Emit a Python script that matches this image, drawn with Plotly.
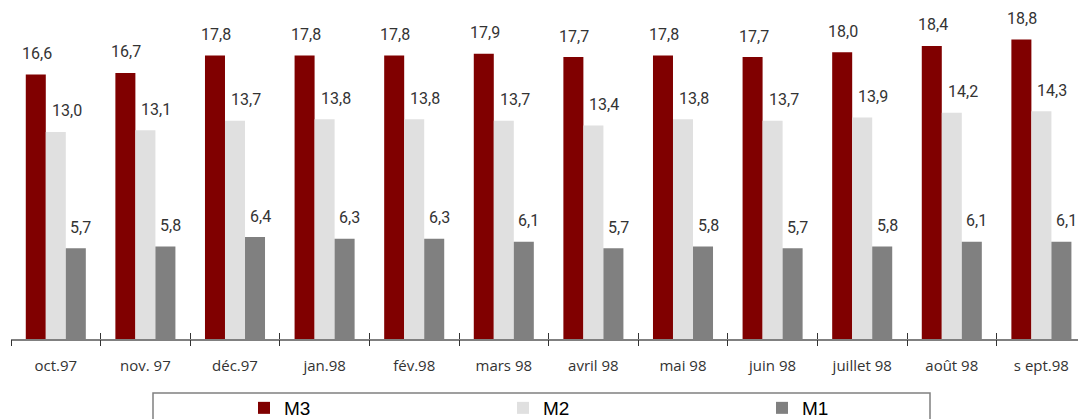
import plotly.graph_objects as go

months = ["oct.97", "nov. 97", "déc.97", "jan.98", "fév.98", "mars 98",
          "avril 98", "mai 98", "juin 98", "juillet 98", "août 98", "s ept.98"]
m3 = [16.6, 16.7, 17.8, 17.8, 17.8, 17.9, 17.7, 17.8, 17.7, 18.0, 18.4, 18.8]
m2 = [13.0, 13.1, 13.7, 13.8, 13.8, 13.7, 13.4, 13.8, 13.7, 13.9, 14.2, 14.3]
m1 = [5.7, 5.8, 6.4, 6.3, 6.3, 6.1, 5.7, 5.8, 5.7, 5.8, 6.1, 6.1]

series = [("M3", m3, "#800000", -19),
          ("M2", m2, "#E0E0E0", 11),
          ("M1", m1, "#808080", 25)]

W, H = 1078, 419
L, R, T, B = 11, 0, 0, 80
pw, ph = W - L - R, H - T - B
cat_w = 89.6
x_max = -0.5 + pw / cat_w
y_max = ph / 15.93

fig = go.Figure()
annotations = []
for name, vals, color, dx in series:
    fig.add_trace(go.Bar(x=list(range(len(months))), y=vals, name=name,
                         marker=dict(color=color, line=dict(width=0))))
    for i, v in enumerate(vals):
        annotations.append(dict(
            x=i, y=v, xref="x", yref="y", text=f"{v:.1f}".replace(".", ","),
            showarrow=False, xshift=dx, yshift=21, yanchor="middle",
            font=dict(family="Roboto, Arial, sans-serif", size=16, color="#333333")))

# legend frame
def px_x(p):
    return (p - L) / pw

def px_y(p):
    return (T + ph - p) / ph

fig.add_shape(type="rect", xref="paper", yref="paper",
              x0=px_x(153), x1=px_x(930), y0=px_y(393), y1=px_y(440),
              line=dict(color="#808080", width=1.5), fillcolor="rgba(0,0,0,0)")

fig.update_layout(
    width=W, height=H,
    margin=dict(l=L, r=R, t=T, b=B, pad=0, autoexpand=False),
    paper_bgcolor="white", plot_bgcolor="white",
    barmode="group", bargap=0.33, bargroupgap=0,
    showlegend=True,
    legend=dict(orientation="h", x=px_x(244), xanchor="left",
                y=px_y(389), yanchor="top",
                entrywidth=214, entrywidthmode="pixels",
                font=dict(family="Liberation Sans, Arial, sans-serif",
                          size=19, color="#000000"),
                bgcolor="rgba(0,0,0,0)", borderwidth=0, traceorder="normal"),
    annotations=annotations,
    xaxis=dict(tickmode="array", tickvals=list(range(len(months))), ticktext=months,
               range=[-0.5, x_max], showgrid=False, zeroline=False,
               showline=True, linecolor="#808080", linewidth=2,
               ticks="", ticklabelstandoff=12,
               tickfont=dict(family="Open Sans, DejaVu Sans, sans-serif", size=15, color="#333333")),
    xaxis2=dict(overlaying="x", anchor="y", side="bottom", range=[-0.5, x_max],
                tickmode="array", tickvals=[i - 0.5 for i in range(len(months) + 1)],
                showticklabels=False, showgrid=False, zeroline=False, showline=False,
                ticks="outside", ticklen=6, tickwidth=1, tickcolor="#333333"),
    xaxis3=dict(overlaying="x", anchor="y", side="bottom", range=[-0.5, x_max],
                tickmode="array", tickvals=[i - 0.5 for i in range(len(months) + 1)],
                showticklabels=False, showgrid=False, zeroline=False, showline=False,
                ticks="inside", ticklen=6, tickwidth=1, tickcolor="#333333"),
    yaxis=dict(range=[0, y_max], visible=False, showgrid=False, zeroline=False),
)
# keep overlay axes drawn by attaching invisible traces
fig.add_trace(go.Scatter(x=[0], y=[0], xaxis="x2", mode="markers",
                         marker=dict(opacity=0), showlegend=False, hoverinfo="skip"))
fig.add_trace(go.Scatter(x=[0], y=[0], xaxis="x3", mode="markers",
                         marker=dict(opacity=0), showlegend=False, hoverinfo="skip"))

fig.write_html("out.html")
